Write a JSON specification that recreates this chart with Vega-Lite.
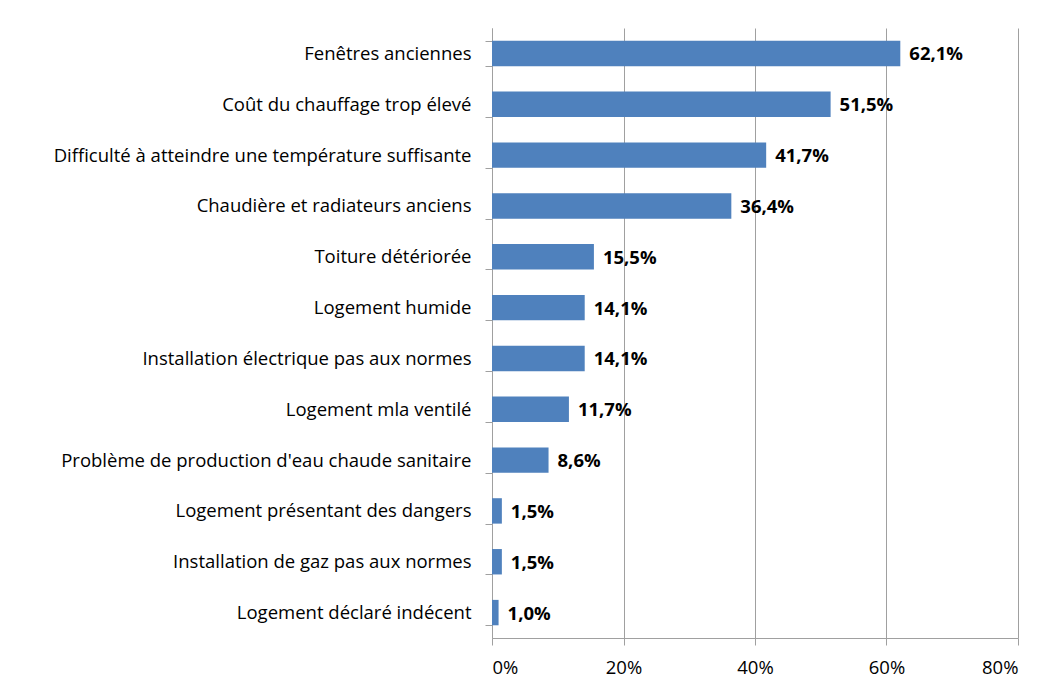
{
  "$schema": "https://vega.github.io/schema/vega-lite/v6.json",
  "autosize": "none",
  "width": 526,
  "height": 610,
  "padding": {"left": 492, "top": 28, "right": 33, "bottom": 55},
  "background": "white",
  "config": {
    "locale": {"number": {"decimal": ",", "thousands": " ", "grouping": [3], "currency": ["", " €"]}},
    "view": {"stroke": null},
    "font": "Open Sans"
  },
  "data": {
    "values": [
      {"cat": "Fenêtres anciennes", "v": 0.621},
      {"cat": "Coût du chauffage trop élevé", "v": 0.515},
      {"cat": "Difficulté à atteindre une température suffisante", "v": 0.417},
      {"cat": "Chaudière et radiateurs anciens", "v": 0.364},
      {"cat": "Toiture détériorée", "v": 0.155},
      {"cat": "Logement humide", "v": 0.141},
      {"cat": "Installation électrique pas aux normes", "v": 0.141},
      {"cat": "Logement mla ventilé", "v": 0.117},
      {"cat": "Problème de production d'eau chaude sanitaire", "v": 0.086},
      {"cat": "Logement présentant des dangers", "v": 0.015},
      {"cat": "Installation de gaz pas aux normes", "v": 0.015},
      {"cat": "Logement déclaré indécent", "v": 0.010}
    ]
  },
  "encoding": {
    "y": {
      "field": "cat", "type": "nominal", "sort": null, "title": null,
      "scale": {"paddingInner": 0.5, "paddingOuter": 0.25},
      "axis": {
        "tickBand": "extent", "tickSize": 7, "tickColor": "#A0A0A0",
        "domainColor": "#A0A0A0", "labelFontSize": 18.5, "labelColor": "#000000",
        "labelPadding": 14, "labelLimit": 500, "grid": false
      }
    },
    "x": {
      "field": "v", "type": "quantitative", "title": null,
      "scale": {"domain": [0, 0.8], "nice": false},
      "axis": {
        "format": ".0%", "values": [0, 0.2, 0.4, 0.6, 0.8], "tickSize": 7,
        "tickColor": "#A0A0A0", "domainColor": "#A0A0A0", "gridColor": "#A0A0A0",
        "labelFontSize": 18.5, "labelColor": "#000000", "labelPadding": 13
      }
    }
  },
  "layer": [
    {"mark": {"type": "bar", "color": "#4F81BD"}},
    {
      "mark": {"type": "text", "align": "left", "baseline": "middle", "dx": 9, "dy": 1, "fontSize": 18.5, "fontWeight": "bold", "color": "#000000"},
      "encoding": {"text": {"field": "v", "type": "quantitative", "format": ".1%"}}
    }
  ]
}
